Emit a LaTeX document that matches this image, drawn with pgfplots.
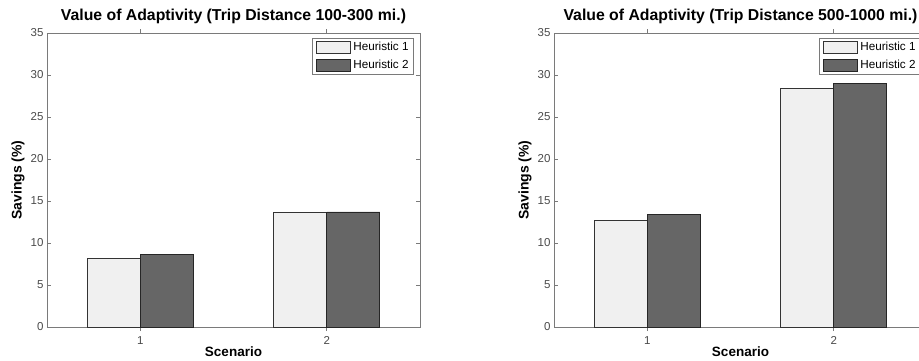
\documentclass[border=0pt]{standalone}
\usepackage{fontspec}
\setmainfont{Liberation Sans}
\usepackage{pgfplots}
\pgfplotsset{compat=1.18}
\definecolor{lightbar}{HTML}{F0F0F0}
\definecolor{darkbar}{HTML}{666666}
\definecolor{axgray}{HTML}{7A7A7A}
\definecolor{ticktext}{HTML}{4A4A4A}
\pgfplotsset{matlabbar/.style={
  scale only axis, width=373pt, height=294pt, anchor=south west,
  xmin=0.5, xmax=2.5, ymin=0, ymax=35,
  xtick={1,2}, ytick={0,5,...,35},
  tick align=inside, tick pos=both, major tick length=4pt,
  axis line style={axgray, line width=0.8pt},
  every tick/.style={axgray, line width=0.8pt},
  tick label style={font=\fontsize{11.5}{13}\selectfont, text=ticktext},
  xticklabel style={yshift=-2pt},
  /pgf/number format/assume math mode=true,
  ybar=0pt, bar width=53pt,
  title style={at={(axis description cs:0.5,1)}, anchor=base, yshift=7pt, font=\fontsize{15.8}{18}\selectfont\bfseries},
  xlabel style={at={([yshift=-25pt]axis description cs:0.5,0)}, anchor=center, font=\fontsize{13.5}{16}\selectfont\bfseries},
  ylabel style={at={([xshift=-29pt]axis description cs:0,0.5)}, anchor=center, font=\fontsize{14}{16}\selectfont\bfseries},
  xlabel={Scenario}, ylabel={Savings (\%)},
  legend style={at={(1,1)}, anchor=north east, xshift=-6pt, yshift=-5pt, draw=axgray, line width=0.8pt,
    font=\fontsize{11.7}{13}\selectfont, inner xsep=3pt, inner ysep=2pt, row sep=4pt, cells={anchor=west},
    /tikz/every odd column/.append style={column sep=1pt}},
  legend image code/.code={\draw[##1,line width=0.8pt] (0pt,-6pt) rectangle (34pt,6pt);},
  h1/.style={fill=lightbar, draw=black!80, line width=0.8pt},
  h2/.style={fill=darkbar, draw=black!85, line width=0.8pt},
}}
\begin{document}
\begin{tikzpicture}[x=1pt,y=1pt]
\begin{axis}[matlabbar, at={(47pt,33pt)}, title={Value of Adaptivity (Trip Distance 100-300 mi.)}]
\addplot[h1] coordinates {(1,8.2) (2,13.6)};
\addplot[h2] coordinates {(1,8.6) (2,13.7)};
\legend{Heuristic 1, Heuristic 2}
\end{axis}
\begin{axis}[matlabbar, at={(554pt,33pt)}, title={Value of Adaptivity (Trip Distance 500-1000 mi.)}]
\addplot[h1] coordinates {(1,12.7) (2,28.4)};
\addplot[h2] coordinates {(1,13.4) (2,29.0)};
\legend{Heuristic 1, Heuristic 2}
\end{axis}
\pgfresetboundingbox
\path[use as bounding box] (0pt,0pt) rectangle (919pt,360pt);
\end{tikzpicture}
\end{document}
